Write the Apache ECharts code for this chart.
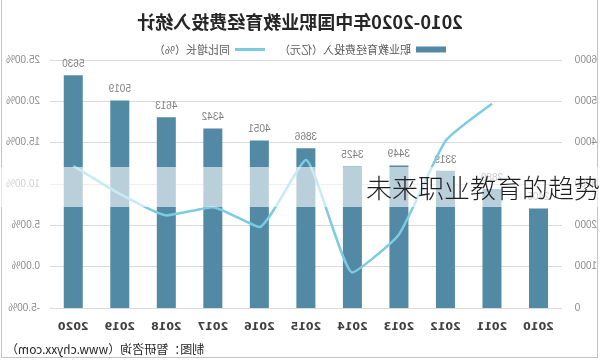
<!DOCTYPE html>
<html>
<head>
<meta charset="utf-8">
<script src="https://cdn.jsdelivr.net/npm/echarts@6/dist/echarts.min.js"></script>
<style>
  html, body { margin: 0; padding: 0; background: #fff; }
  #wrap { position: relative; width: 600px; height: 360px; overflow: hidden; background: #fff; }
  #chart { position: absolute; left: 0; top: 0; width: 600px; height: 360px; transform: scaleX(-1); }
  #frame { position: absolute; left: 1px; top: -2px; width: 595px; height: 358px; border: 1px solid #c4c4c4; pointer-events: none; }
  #band { position: absolute; left: 0; top: 167px; width: 600px; height: 40px; background: rgba(255,255,255,0.6); }
  #caption { position: absolute; left: 366px; top: 167px; height: 40px; line-height: 40px; font-family: "Noto Sans CJK SC", sans-serif; font-weight: 300; font-size: 26px; color: #1e1e1e; white-space: nowrap; }
</style>
</head>
<body>
<div id="wrap">
  <div id="chart"></div>
  <div id="frame"></div>
  <div id="band"></div>
  <div id="caption">未来职业教育的趋势</div>
</div>
<script>
const titleText = '2010-2020年中国职业教育经费投入统计';
const sourceText = '制图：智研咨询（www.chyxx.com）';
const years = ['2010','2011','2012','2013','2014','2015','2016','2017','2018','2019','2020'];
const funding = [2405, 2880, 3319, 3449, 3425, 3866, 4051, 4342, 4613, 5019, 5630];
const growth = [null, 19.7, 15.2, 3.9, -0.7, 12.9, 4.8, 7.2, 6.2, 8.8, 12.2];
const barName = '职业教育经费投入（亿元）';
const lineName = '同比增长（%）';

const chart = echarts.init(document.getElementById('chart'));
chart.setOption({
  animation: false,
  backgroundColor: '#fff',
  title: {
    text: titleText, left: 'center', top: 8,
    textStyle: { fontSize: 18, fontWeight: 'bold', color: '#262626', fontFamily: 'Noto Sans CJK SC' }
  },
  legend: {
    left: 149, top: 39, itemGap: 14,
    textStyle: { fontSize: 11, color: '#595959', fontFamily: 'Noto Sans CJK SC' },
    data: [
      { name: barName, icon: 'rect', itemStyle: { color: '#5289a4' } },
      { name: lineName, icon: 'path://M0,0L30,0L30,3L0,3Z', itemStyle: { color: '#7ccbe2' } }
    ],
    itemWidth: 30, itemHeight: 6
  },
  grid: { left: 38, right: 50, top: 60, bottom: 52 },
  xAxis: {
    type: 'category', data: years,
    axisLine: { show: false }, axisTick: { show: false },
    axisLabel: { color: '#404040', fontSize: 11, fontWeight: 'bold', margin: 14, fontFamily: 'DejaVu Sans' }
  },
  yAxis: [
    {
      type: 'value', min: 0, max: 6000, interval: 1000, position: 'left',
      axisLine: { show: false }, axisTick: { show: false },
      splitLine: { show: false },
      axisLabel: { color: '#8c8c8c', fontSize: 10, margin: 13, formatter: v => String(v) }
    },
    {
      type: 'value', min: -5, max: 25, interval: 5, position: 'right',
      axisLine: { show: false }, axisTick: { show: false },
      splitLine: { show: true, lineStyle: { color: '#dadada', width: 1 } },
      axisLabel: { color: '#8c8c8c', fontSize: 10, margin: 10, formatter: v => v.toFixed(2) + '%' }
    }
  ],
  series: [
    {
      name: barName, type: 'bar', data: funding, barWidth: 19,
      itemStyle: { color: '#5289a4' },
      label: { show: true, position: 'top', color: '#7f7f7f', fontSize: 10, distance: 6 }
    },
    {
      name: lineName, type: 'line', yAxisIndex: 1, data: growth,
      smooth: 0.15, showSymbol: false, connectNulls: false,
      itemStyle: { color: '#7ccbe2' },
      lineStyle: { color: '#7ccbe2', width: 2.5 }
    }
  ],
  graphic: [
    {
      type: 'text', right: 6, bottom: 5,
      style: { text: sourceText, fontSize: 12, fill: '#262626', fontFamily: 'Noto Sans CJK SC' }
    }
  ]
});
</script>
</body>
</html>
